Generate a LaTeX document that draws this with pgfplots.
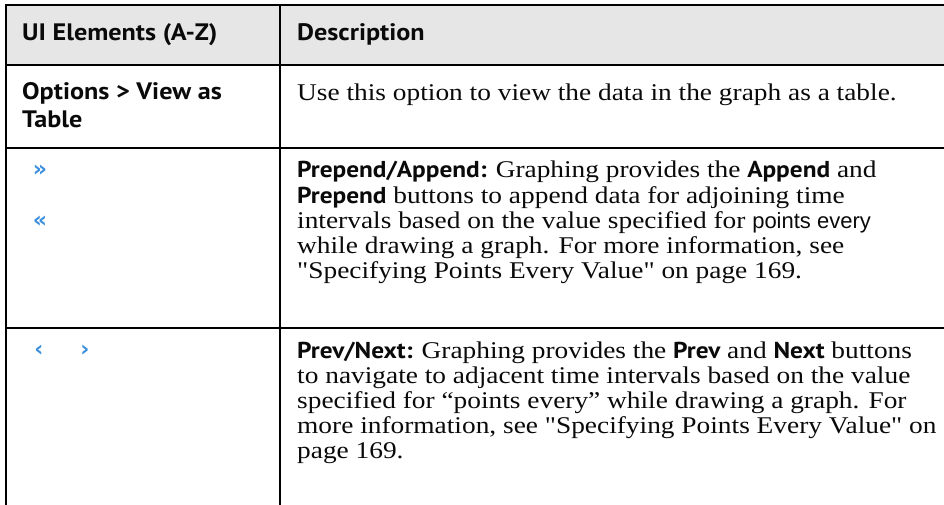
\documentclass[border=0pt]{standalone}
\usepackage{pgfplots}
\pgfplotsset{compat=1.18}
\usepackage{fontspec}
\setmainfont[Ligatures=TeXOff,FakeStretch=1.14]{Liberation Serif}
\newfontfamily\hd[FakeStretch=1.10]{PT Sans}
\newfontfamily\ar{Liberation Sans}
\newfontfamily\sym{DejaVu Sans}
\definecolor{hdr}{HTML}{E6E6E6}
\definecolor{ico}{HTML}{3C8FDC}
\definecolor{txt}{HTML}{0A0A0A}
\newcommand\B[1]{{\hd\bfseries\fontsize{23}{26}\selectfont #1}}
\tikzset{
  t/.style={anchor=base west, inner sep=0pt, text=txt, font=\fontsize{24}{26}\selectfont},
  h/.style={anchor=base west, inner sep=0pt, text=txt, font=\hd\bfseries\fontsize{23.8}{26}\selectfont},
  ic/.style={anchor=center, inner sep=0pt, text=ico, font=\sym\bfseries\fontsize{22}{22}\selectfont}
}
\begin{document}
\begin{tikzpicture}
\begin{axis}[width=944pt,height=505pt,scale only axis,
  xmin=0,xmax=944,ymin=0,ymax=505,y dir=reverse,hide axis,clip=false]
% header fill
\addplot[fill=hdr,draw=none] coordinates {(6,5) (944,5) (944,65) (6,65) (6,5)};
% rules
\addplot[black,line width=2pt] coordinates {(5,5) (944,5)};
\addplot[black,line width=2pt] coordinates {(5,65) (944,65)};
\addplot[black,line width=2pt] coordinates {(5,148) (944,148)};
\addplot[black,line width=2pt] coordinates {(5,328) (944,328)};
\addplot[black,line width=2pt] coordinates {(6,4) (6,505)};
\addplot[black,line width=2pt] coordinates {(280,4) (280,505)};
% header
\node[h] at (axis cs:22,41) {UI Elements (A-Z)};
\node[h] at (axis cs:297,41) {Description};
% row 1
\node[h] at (axis cs:22,100) {Options > View as};
\node[h] at (axis cs:22,128) {Table};
\node[t] at (axis cs:297,101) {Use this option to view the data in the graph as a table.};
% row 2
\node[ic] at (axis cs:40,171) {»};
\node[ic] at (axis cs:40,222) {«};
\node[t] at (axis cs:297,178) {\B{Prepend/Append:} Graphing provides the \B{Append} and};
\node[t] at (axis cs:297,203) {\B{Prepend} buttons to append data for adjoining time};
\node[t] at (axis cs:297,228) {intervals based on the value specified for {\ar\fontsize{22}{24}\selectfont points every}};
\node[t] at (axis cs:297,253) {while drawing a graph. For more information, see};
\node[t] at (axis cs:297,278) {"Specifying Points Every Value" on page 169.};
% row 3
\node[ic] at (axis cs:39,351) {‹};
\node[ic] at (axis cs:85,351) {›};
\node[t] at (axis cs:297,358) {\B{Prev/Next:} Graphing provides the \B{Prev} and \B{Next} buttons};
\node[t] at (axis cs:297,383) {to navigate to adjacent time intervals based on the value};
\node[t] at (axis cs:297,408) {specified for “points every” while drawing a graph. For};
\node[t] at (axis cs:297,433) {more information, see "Specifying Points Every Value" on};
\node[t] at (axis cs:297,458) {page 169.};
\end{axis}
\pgfresetboundingbox
\path (0,0) rectangle (944pt,505pt);
\end{tikzpicture}
\end{document}
